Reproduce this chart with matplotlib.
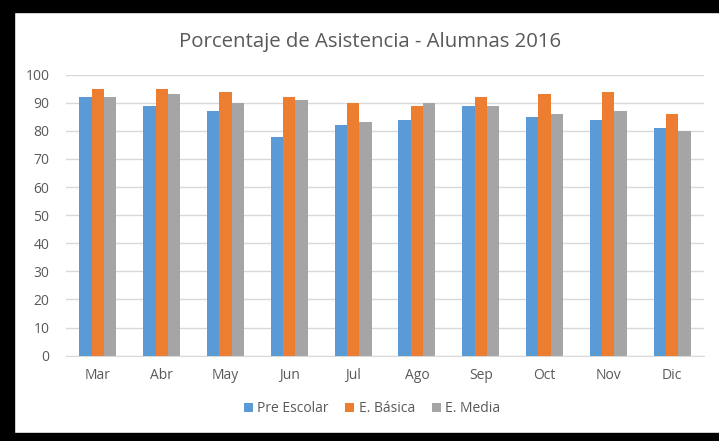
import numpy as np
import matplotlib.pyplot as plt
from matplotlib.patches import Rectangle

months = ["Mar", "Abr", "May", "Jun", "Jul", "Ago", "Sep", "Oct", "Nov", "Dic"]
pre_escolar = [92, 89, 87, 78, 82, 84, 89, 85, 84, 81]
e_basica = [95, 95, 94, 92, 90, 89, 92, 93, 94, 86]
e_media = [92, 93, 90, 91, 83, 90, 89, 86, 87, 80]
series_names = ["Pre Escolar", "E. Básica", "E. Media"]

COLORS = ["#5B9BD5", "#ED7D31", "#A5A5A5"]
TXT = "#595959"
plt.rcParams["font.family"] = ["Open Sans", "DejaVu Sans"]

fig = plt.figure(figsize=(7.19, 4.41), dpi=100)
ax = fig.add_axes([66/719, 1 - 355.7/441, (704 - 66)/719, (355.7 - 74.7)/441])

x = np.arange(len(months))
w = 0.193
for i, (vals, name) in enumerate(zip([pre_escolar, e_basica, e_media], series_names)):
    ax.bar(x + (i - 1) * w, vals, width=w, color=COLORS[i], label=name, zorder=3)

ax.set_xlim(-0.5, len(months) - 0.5)
ax.set_ylim(0, 100)
ax.set_yticks(range(0, 101, 10))
ax.set_xticks(x)
ax.set_xticklabels(months)
ax.yaxis.grid(True, color="#D9D9D9", linewidth=1, zorder=0)
for s in ["top", "right", "left"]:
    ax.spines[s].set_visible(False)
ax.spines["bottom"].set_color("#D9D9D9")
ax.tick_params(axis="both", length=0, colors=TXT, labelsize=10)
ax.tick_params(axis="y", pad=12)
ax.tick_params(axis="x", pad=9)

fig.text(370/719, 1 - 42/441, "Porcentaje de Asistencia - Alumnas 2016",
         ha="center", va="center", fontsize=14.7, color=TXT)

leg = fig.legend(loc="center", bbox_to_anchor=(372/719, 1 - 409/441), ncol=3,
                 frameon=False, fontsize=10, handlelength=0.65, handleheight=0.65,
                 handletextpad=0.3, columnspacing=1.2)
for t in leg.get_texts():
    t.set_color(TXT)

# black frame from the screenshot
k = dict(color="black", transform=fig.transFigure, figure=fig, zorder=10)
fig.patches.append(Rectangle((0, 1 - 12/441), 1, 12/441, **k))
fig.patches.append(Rectangle((0, 0), 14/719, 1, **k))
fig.patches.append(Rectangle((0, 0), 1, 8/441, **k))

fig.savefig("out.png", dpi=100)
